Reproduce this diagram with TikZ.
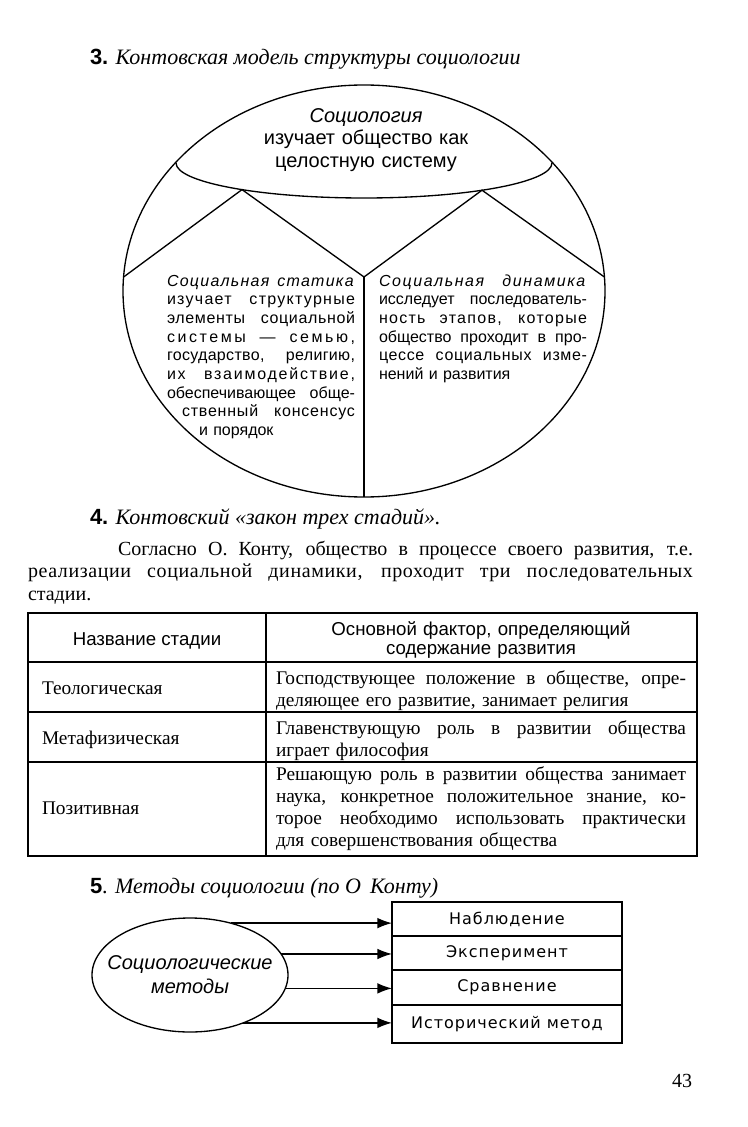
\documentclass[tikz,border=0pt]{standalone}
\usepackage{fontspec}
\setmainfont{Liberation Serif}
\setsansfont{Liberation Sans}
\newfontfamily\boxfont[LetterSpace=6]{DejaVu Sans}
\usepackage{tikz}
\usetikzlibrary{arrows.meta,shapes.geometric,positioning}

% one line stretched to the full width of its block
\newcommand{\jl}[2][\hsize]{\makebox[#1][s]{\spaceskip=.3em plus 1fil\relax #2}}
% letter spaced words
\newcommand{\lsp}[2]{{\addfontfeature{LetterSpace=#1}#2}}

\begin{document}
\begin{tikzpicture}[x=0.75pt, y=-0.75pt, line width=1pt, >={Latex[length=11pt,width=8pt]},
	every node/.style={inner sep=0pt, outer sep=0pt},
	ttl/.style={anchor=base west, font=\fontsize{16.5}{19}\selectfont},
	blk/.style={anchor=base west, align=left, font=\sffamily\fontsize{12}{14}\selectfont},
	txt/.style={anchor=base west, align=left, font=\fontsize{14.5}{16.5}\selectfont},
	hdr/.style={anchor=base, align=center, font=\sffamily\fontsize{14}{14.5}\selectfont},
	mbox/.style={draw, minimum width=172.5pt, font=\boxfont\fontsize{12}{14}\selectfont}]
	\useasboundingbox (0,0) rectangle (747,1127);

	% 3. the model
	\node[ttl] (t3) at (90,65) {\textsf{\bfseries 3.} \textit{Контовская модель структуры социологии}};
	\draw (364,291) ellipse [x radius=241, y radius=206];
	\draw (176,163) arc [start angle=180, end angle=0, x radius=188, y radius=35];
	\draw (123.6,277) -- (242,189.6) -- (364,277) -- (482,190.2) -- (604.4,277);
	\draw (364,277) -- (364,497);
	\node[anchor=base, align=center, text width=250pt, font=\sffamily\fontsize{15}{16.5}\selectfont]
		(soc) at (366,123) {\textit{Социология}\\изучает общество как\\целостную систему};
	\node[blk, text width=141pt] (stat) at (167,286) {%
		\jl{\textit{\lsp{8}{Социальная статика}}}\\
		\jl{\lsp{8}{изучает структурные}}\\
		\jl{\lsp{4}{элементы социальной}}\\
		\jl{\lsp{16}{системы — семью,}}\\
		\jl{\lsp{2}{государство, религию,}}\\
		\jl{\lsp{11}{их взаимодействие,}}\\
		\jl{обеспечивающее обще-}\\
		\hfill\jl[129.75pt]{\lsp{5}{ственный консенсус}}\\
		\hspace*{24pt}и порядок};
	\node[blk, text width=156pt] (dyn) at (379,286) {%
		\jl{\textit{\lsp{10}{Социальная динамика}}}\\
		\jl{исследует последователь-}\\
		\jl{\lsp{8}{ность этапов, которые}}\\
		\jl{общество проходит в про-}\\
		\jl{\lsp{4}{цессе социальных изме-}}\\
		нений и развития};

	% 4. three stages
	\node[ttl] (t4) at (90,524) {\textsf{\bfseries 4.} \textit{Контовский «закон трех стадий».}};
	\node[anchor=base west, align=left, text width=498.75pt, font=\fontsize{15}{17}\selectfont] (par) at (28,555) {%
		\hspace*{67.5pt}\jl[431.25pt]{Согласно О. Конту, общество в процессе своего развития, т.е.}\\
		\jl{\lsp{3}{реализации социальной динамики, проходит три последовательных}}\\
		стадии.};
	\draw (28,613) rectangle (697,856);
	\draw[line width=2.2pt] (28,613) -- (697,613);
	\draw[line width=1.4pt] (28,662) -- (697,662);
	\foreach \yy in {712,762}
		\draw (28,\yy) -- (697,\yy);
	\draw (266,613) -- (266,856);
	\node[hdr] (h1) at (147,645) {Название стадии};
	\node[hdr, text width=300pt] (h2) at (481,635) {Основной фактор, определяющий\\содержание развития};
	\node[txt] (s1) at (42,694) {Теологическая};
	\node[txt] (s2) at (42,744) {Метафизическая};
	\node[txt] (s3) at (42,814) {Позитивная};
	\node[txt, text width=307.5pt] (f1) at (276,684) {%
		\jl{Господствующее положение в обществе, опре-}\\
		деляющее его развитие, занимает религия};
	\node[txt, text width=307.5pt] (f2) at (276,734) {%
		\jl{Главенствующую роль в развитии общества}\\
		играет философия};
	\node[txt, text width=307.5pt] (f3) at (276,780) {%
		\jl{Решающую роль в развитии общества занимает}\\
		\jl{наука, конкретное положительное знание, ко-}\\
		\jl{торое необходимо использовать практически}\\
		для совершенствования общества};

	% 5. methods
	\node[ttl] (t5) at (90,893) {\textsf{\bfseries 5}. \textit{Методы социологии (по О\, Конту)}};
	\node[ellipse, draw, minimum width=147pt, minimum height=85.5pt] (m) at (190,975) {};
	\node[align=center, font=\sffamily\itshape\fontsize{15}{18}\selectfont] (mt) at (m) {Социологические\\методы};
	\node[mbox, minimum height=25.5pt] (b1) at (507,919) {Наблюдение};
	\node[mbox, minimum height=25.5pt, below=0pt of b1] (b2) {Эксперимент};
	\node[mbox, minimum height=26.25pt, below=0pt of b2] (b3) {Сравнение};
	\node[mbox, minimum height=28.5pt, below=0pt of b3] (b4) {Исторический метод};
	\draw[->] (m.52) -- (m.52 -| b1.west);
	\draw[->] (m.13) -- (m.13 -| b2.west);
	\draw[->] (m.-8) -- (m.-8 -| b3.west);
	\draw[->] (m.-42) -- (m.-42 -| b4.west);

	\node[anchor=base east, font=\fontsize{15}{17}\selectfont] (pg) at (692,1087) {43};
\end{tikzpicture}
\end{document}
